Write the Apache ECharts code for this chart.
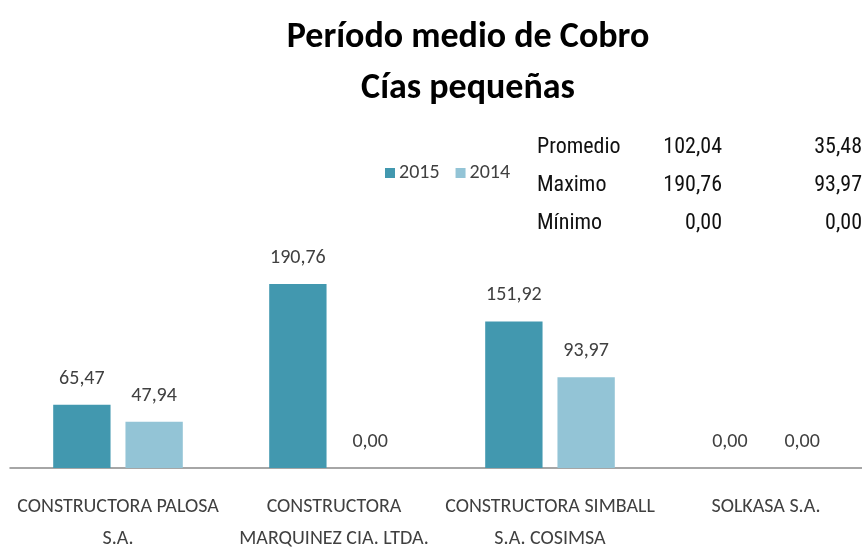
<!DOCTYPE html>
<html>
<head>
<meta charset="utf-8">
<script src="https://cdn.jsdelivr.net/npm/echarts@6/dist/echarts.min.js"></script>
<style>
  html, body { margin: 0; padding: 0; background: #fff; }
  #chart { width: 862px; height: 548px; }
</style>
</head>
<body>
<div id="chart"></div>
<script>
// datos del gráfico
const categories = [
  'CONSTRUCTORA PALOSA\nS.A.',
  'CONSTRUCTORA\nMARQUINEZ CIA. LTDA.',
  'CONSTRUCTORA SIMBALL\nS.A. COSIMSA',
  'SOLKASA S.A.'
]
const years = ['2015', '2014']
const values2015 = [65.47, 190.76, 151.92, 0]
const values2014 = [47.94, 0, 93.97, 0]

// tabla de resumen
const statLabels = ['Promedio', 'Maximo', 'Mínimo']
const stats2015 = [102.04, 190.76, 0]
const stats2014 = [35.48, 93.97, 0]

const fmt = v => v.toFixed(2).replace('.', ',')
const calibri = 'Carlito, Calibri, sans-serif'
const narrow = '"Roboto Condensed", "Arial Narrow", sans-serif'

const chart = echarts.init(document.getElementById('chart'))

// textos de la tabla a la derecha
const tableText = []
const rowTop = [136, 174, 212]
statLabels.forEach((name, i) => {
  tableText.push({ type: 'text', left: 537, top: rowTop[i],
    style: { text: name, font: '22px ' + narrow, fill: '#111' } })
  tableText.push({ type: 'text', right: 140, top: rowTop[i],
    style: { text: fmt(stats2015[i]), font: '22px ' + narrow, fill: '#111', textAlign: 'right' } })
  tableText.push({ type: 'text', right: 0, top: rowTop[i],
    style: { text: fmt(stats2014[i]), font: '22px ' + narrow, fill: '#111', textAlign: 'right' } })
})

const valueLabel = {
  show: true,
  position: 'top',
  distance: 16,
  formatter: p => fmt(p.value),
  fontFamily: calibri,
  fontSize: 20,
  color: '#404040'
}

const option = {
  animation: false,
  title: {
    text: 'Período medio de Cobro\nCías pequeñas',
    left: 463,
    textAlign: 'center',
    top: 7,
    textStyle: { fontFamily: calibri, fontWeight: 'bold', fontSize: 36, lineHeight: 51, color: '#000' }
  },
  legend: {
    data: years,
    left: 380,
    top: 158,
    itemWidth: 10,
    itemHeight: 10,
    itemGap: 16,
    icon: 'rect',
    textStyle: { fontFamily: calibri, fontSize: 20, color: '#404040', padding: [0, 0, 0, -1] }
  },
  graphic: tableText,
  grid: { left: 10, width: 864, top: 275, bottom: 80, outerBoundsMode: 'none' },
  xAxis: {
    type: 'category',
    data: categories,
    axisLine: { lineStyle: { color: '#898989', width: 1.5 } },
    axisTick: { show: false },
    axisLabel: {
      interval: 0,
      margin: 23,
      fontFamily: calibri,
      fontSize: 20,
      lineHeight: 32,
      color: '#404040'
    }
  },
  yAxis: {
    type: 'value',
    min: 0,
    max: 200,
    show: false,
    splitLine: { show: false }
  },
  series: [
    {
      name: '2015',
      type: 'bar',
      data: values2015,
      barGap: '26%',
      barCategoryGap: '40%',
      itemStyle: { color: '#4298AF' },
      label: valueLabel
    },
    {
      name: '2014',
      type: 'bar',
      data: values2014,
      itemStyle: { color: '#93C4D6' },
      label: valueLabel
    }
  ]
}

chart.setOption(option)
</script>
</body>
</html>
